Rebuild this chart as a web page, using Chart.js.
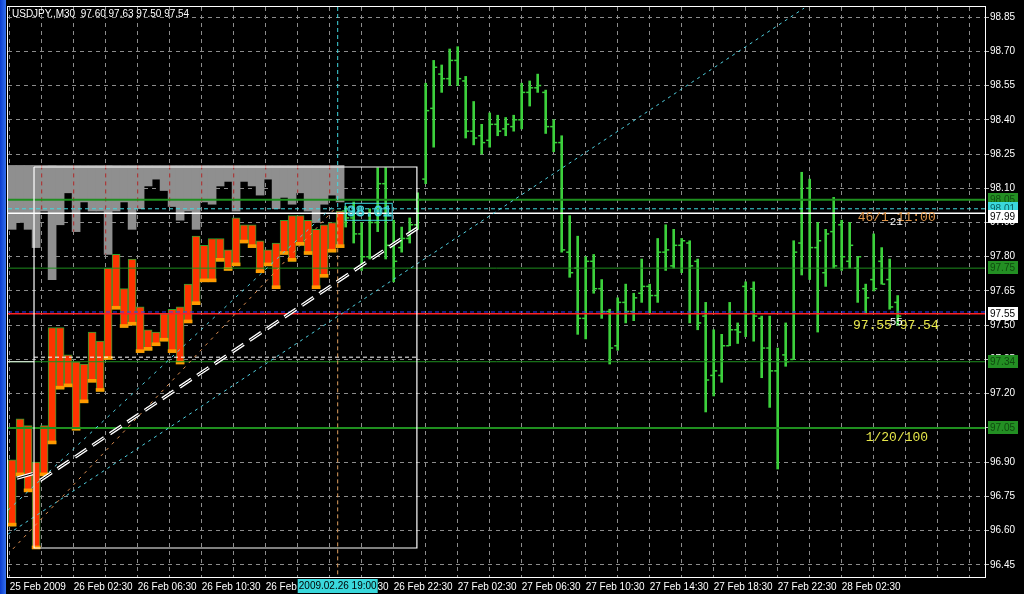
<!DOCTYPE html>
<html>
<head>
<meta charset="utf-8">
<script src="https://cdn.jsdelivr.net/npm/chart.js@4/dist/chart.umd.min.js"></script>
<style>
  html, body { margin: 0; padding: 0; background: #000; }
  #wrap { width: 1024px; height: 594px; }
</style>
</head>
<body>
<div id="wrap"><canvas id="chart" width="1024" height="594"></canvas></div>
<script>
// bar index 0 = 25 Feb 22:30, one bar per 30 minutes
const timeLabels = ["25 Feb 2009", "26 Feb 02:30", "26 Feb 06:30", "26 Feb 10:30", "26 Feb 14:30",
  "26 Feb 18:30", "26 Feb 22:30", "27 Feb 02:30", "27 Feb 06:30", "27 Feb 10:30", "27 Feb 14:30",
  "27 Feb 18:30", "27 Feb 22:30", "28 Feb 02:30"];
const priceTicks = [96.45, 96.60, 96.75, 96.90, 97.05, 97.20, 97.35, 97.50, 97.65, 97.80, 97.95,
  98.10, 98.25, 98.40, 98.55, 98.70, 98.85];

// green OHLC bars, starting at bar 42
const ohlcStart = 42;
const opens = [98.00, 97.97, 97.90, 97.80, 97.95, 98.12, 97.85, 97.84, 97.88, 97.94, 98.14, 98.45, 98.60, 98.58,
  98.66, 98.57, 98.35, 98.33, 98.31, 98.38, 98.36, 98.37, 98.40, 98.52, 98.54, 98.52, 98.37, 98.30, 97.82, 97.75,
  97.53, 97.78, 97.66, 97.56, 97.41, 97.60, 97.56, 97.64, 97.67, 97.63, 97.82, 97.76, 97.85, 97.86, 97.78, 97.54,
  97.28, 97.28, 97.41, 97.48, 97.67, 97.66, 97.53, 97.40, 97.30, 97.37, 97.35, 97.86, 98.10, 97.84, 97.73, 97.91,
  97.94, 97.78, 97.75, 97.66, 97.70, 97.78, 97.70, 97.60];
const highs = [98.02, 98.04, 97.95, 98.01, 98.19, 98.19, 97.96, 97.93, 97.97, 98.08, 98.56, 98.66, 98.64, 98.71,
  98.72, 98.59, 98.48, 98.38, 98.43, 98.42, 98.41, 98.42, 98.56, 98.57, 98.60, 98.53, 98.40, 98.33, 97.98, 97.89,
  97.80, 97.81, 97.70, 97.57, 97.62, 97.68, 97.64, 97.79, 97.68, 97.88, 97.94, 97.92, 97.88, 97.87, 97.79, 97.60,
  97.48, 97.46, 97.60, 97.51, 97.69, 97.69, 97.54, 97.54, 97.40, 97.51, 97.87, 98.17, 98.14, 97.95, 97.92, 98.06,
  97.96, 97.95, 97.80, 97.68, 97.90, 97.84, 97.79, 97.63];
const lows = [97.93, 97.86, 97.74, 97.79, 97.91, 97.79, 97.69, 97.82, 97.86, 97.92, 98.12, 98.28, 98.52, 98.55,
  98.55, 98.32, 98.29, 98.25, 98.28, 98.33, 98.33, 98.35, 98.36, 98.46, 98.52, 98.34, 98.26, 97.82, 97.71, 97.46,
  97.44, 97.64, 97.53, 97.33, 97.39, 97.51, 97.52, 97.60, 97.55, 97.60, 97.74, 97.75, 97.73, 97.51, 97.48, 97.12,
  97.19, 97.25, 97.41, 97.42, 97.45, 97.43, 97.27, 97.14, 96.87, 97.32, 97.35, 97.72, 97.70, 97.47, 97.67, 97.75,
  97.74, 97.75, 97.60, 97.55, 97.65, 97.68, 97.57, 97.50];
const closes = [97.97, 97.90, 97.80, 97.95, 98.12, 97.85, 97.78, 97.88, 97.94, 98.05, 98.44, 98.63, 98.58, 98.66,
  98.58, 98.35, 98.32, 98.30, 98.38, 98.35, 98.38, 98.40, 98.52, 98.54, 98.55, 98.37, 98.30, 97.83, 97.73, 97.53,
  97.78, 97.66, 97.56, 97.40, 97.60, 97.56, 97.62, 97.67, 97.63, 97.82, 97.83, 97.85, 97.87, 97.76, 97.51, 97.26,
  97.30, 97.41, 97.48, 97.47, 97.55, 97.54, 97.40, 97.30, 97.05, 97.34, 97.82, 98.05, 97.84, 97.87, 97.90, 97.76,
  97.80, 97.85, 97.80, 97.62, 97.66, 97.68, 97.58, 97.54];

// red blocks, bars 0..41
const blockTops = [96.91, 97.09, 97.06, 96.90, 97.06, 97.49, 97.49, 97.37, 97.34, 97.33, 97.47, 97.43, 97.75, 97.81,
  97.66, 97.79, 97.58, 97.48, 97.47, 97.55, 97.57, 97.58, 97.68, 97.89, 97.85, 97.88, 97.88, 97.83, 97.97, 97.94,
  97.94, 97.87, 97.83, 97.86, 97.96, 97.98, 97.98, 97.96, 97.92, 97.94, 97.95, 98.00];
const blockBottoms = [96.62, 96.84, 96.77, 96.52, 96.84, 96.98, 97.22, 97.23, 97.04, 97.16, 97.25, 97.21, 97.35,
  97.57, 97.49, 97.50, 97.38, 97.39, 97.41, 97.43, 97.38, 97.33, 97.51, 97.59, 97.69, 97.69, 97.78, 97.74, 97.76,
  97.86, 97.84, 97.73, 97.76, 97.66, 97.81, 97.78, 97.85, 97.81, 97.66, 97.71, 97.82, 97.84];

// grey histogram hanging from the box top, bars 0..41
const grayTop = 98.20;
const grayBottoms = [97.92, 97.95, 97.92, 97.84, 98.00, 97.70, 97.94, 98.08, 97.91, 98.04, 98.00, 98.00, 97.81,
  98.00, 98.04, 97.92, 98.01, 98.11, 98.14, 98.09, 98.02, 97.96, 98.00, 97.92, 98.04, 98.03, 98.11, 98.13, 98.00,
  98.13, 98.11, 98.07, 98.14, 98.01, 98.06, 98.03, 98.08, 98.00, 97.95, 98.03, 98.07, 98.04];

// horizontal levels
const greenLevels = [98.05, 97.75, 97.34, 97.05];
const whiteLevel = 97.99;
const cyanLevel = 98.01;
const redLevel = 97.55;
const boxDashLevel = 97.36;

// trend lines, [bar, price]
const cyanTrend = [[-0.2, 96.585], [99.3, 98.889]];
const whiteTrend = [[3.8, 96.82], [50.95, 97.925]];
const whiteTrendShort = [[0.9, 96.83], [2.9, 96.85]];
const cyanSteep = [[-0.2, 96.69], [40.7, 98.03]];
const orangeSteep = [[0.4, 96.52], [40.9, 98.02]];
// box around the candles
const boxBars = [3.04, 50.9];
const boxPrices = [96.524, 98.193];
const markerBar = 41; // 2009.02.26 19:00

const X_MIN = -0.2125, X_MAX = 121.9125;
const Y_MIN = 96.397, Y_MAX = 98.894;
const GREEN = "#3cd03c";
const LINE_GREEN = "#1f8f1f";
const MONO = '"Liberation Mono", monospace';
const SANS = '"Liberation Sans", Arial, sans-serif';

function line(points, color, width, dash) {
  return {
    type: "line",
    data: points.map(p => ({ x: p[0], y: p[1] })),
    borderColor: color,
    borderWidth: width,
    borderDash: dash || [],
    pointRadius: 0,
    fill: false,
    tension: 0
  };
}

function hline(price, color, width, dash, from, to) {
  return line([[from === undefined ? X_MIN : from, price], [to === undefined ? X_MAX : to, price]], color, width, dash);
}

const layers = [];

layers.push({
  type: "bar",
  data: grayBottoms.map((b, k) => ({ x: k + 0.3, y: [b, grayTop] })),
  backgroundColor: "#8f8f8f",
  borderWidth: 0,
  barThickness: 8,
  grouped: false
});
// the grid shows dark red where it crosses the grey histogram
for (let v = 4; v <= 40; v += 4) {
  layers.push(line([[v, grayTop], [v, grayBottoms[v]]], "#b02828", 1, [4, 4]));
}

layers.push({
  type: "bar",
  data: highs.map((h, k) => ({ x: ohlcStart + k, y: [lows[k], h] })),
  backgroundColor: GREEN,
  borderWidth: 0,
  barThickness: 2,
  grouped: false
});
layers.push({
  type: "line",
  data: opens.map((o, k) => ({ x: ohlcStart + k - 0.25, y: o })),
  showLine: false,
  pointStyle: "line",
  pointRadius: 1.5,
  pointBorderWidth: 1.5,
  pointBorderColor: GREEN
});
layers.push({
  type: "line",
  data: closes.map((c, k) => ({ x: ohlcStart + k + 0.25, y: c })),
  showLine: false,
  pointStyle: "line",
  pointRadius: 1.5,
  pointBorderWidth: 1.5,
  pointBorderColor: GREEN
});

layers.push({
  type: "bar",
  data: blockTops.map((t, k) => ({ x: k + 0.3, y: [blockBottoms[k], t] })),
  backgroundColor: "#ff3300",
  borderColor: "#2f9f2f",
  borderWidth: 1,
  borderSkipped: false,
  barThickness: 8,
  grouped: false
});
layers.push({
  type: "bar",
  data: blockBottoms.map((b, k) => ({ x: k + 0.3, y: [b, b + 0.013] })),
  backgroundColor: "#ff9a00",
  borderWidth: 0,
  barThickness: 8,
  grouped: false
});

layers.push(hline(greenLevels[0], LINE_GREEN, 2));
layers.push(hline(greenLevels[1], LINE_GREEN, 1));
layers.push(hline(greenLevels[2], LINE_GREEN, 1));
layers.push(hline(greenLevels[3], LINE_GREEN, 2));
layers.push(hline(cyanLevel, "#40d8e0", 1, [4, 3]));
layers.push(hline(whiteLevel, "#ffffff", 1.5));
layers.push(hline(redLevel + 0.008, "#3040ff", 1, [4, 3]));
layers.push(hline(redLevel, "#ff2020", 1.5));
layers.push(hline(boxDashLevel, "#ffffff", 1, [4, 3], boxBars[0], boxBars[1]));
layers.push(hline(greenLevels[2], "#ffffff", 1, [], X_MIN, boxBars[0]));

layers.push(line(cyanTrend, "#50d0e0", 1, [3, 4]));
layers.push(line(cyanSteep, "#50d0e0", 1, [3, 5]));
layers.push(line(orangeSteep, "#e09050", 1, [3, 5]));
layers.push(line(whiteTrend, "#ffffff", 3.5, [14, 7]));
layers.push(line(whiteTrend, "#000000", 1, [14, 7]));
layers.push(line(whiteTrendShort, "#ffffff", 3.5));
layers.push(line(whiteTrendShort, "#000000", 1));

layers.push(line([[boxBars[0], boxPrices[1]], [boxBars[1], boxPrices[1]], [boxBars[1], boxPrices[0]],
  [boxBars[0], boxPrices[0]], [boxBars[0], boxPrices[1]]], "#ffffff", 1.2));

layers.push(line([[markerBar, Y_MAX], [markerBar, cyanLevel]], "#40d8e0", 1, [4, 3]));
layers.push(line([[markerBar, whiteLevel], [markerBar, Y_MIN]], "#e0a060", 1, [4, 3]));

// later entries drawn on top
layers.forEach((d, i) => { d.order = layers.length - i; });

const xGridTicks = [];
for (let v = 0; v <= 120; v += 4) xGridTicks.push(v);

function axisBox(c, y, text, bg, fg) {
  c.fillStyle = bg;
  c.fillRect(988, Math.round(y) - 7, 30, 13);
  c.fillStyle = fg;
  c.font = "10px " + SANS;
  c.textBaseline = "middle";
  c.textAlign = "left";
  c.fillText(text, 990, Math.round(y) + 0.5);
}

const decor = {
  id: "decor",
  beforeDraw(chart) {
    const c = chart.ctx;
    c.save();
    c.fillStyle = "#000";
    c.fillRect(0, 0, chart.width, chart.height);
    const g = c.createLinearGradient(0, 0, 7, 0);
    g.addColorStop(0, "#0b3ccf");
    g.addColorStop(1, "#3a78f2");
    c.fillStyle = g;
    c.fillRect(0, 0, 6, chart.height);
    c.restore();
  },
  afterDraw(chart) {
    const c = chart.ctx;
    const xs = chart.scales.x, ys = chart.scales.y;
    const a = chart.chartArea;
    c.save();
    // frame
    c.strokeStyle = "#ffffff";
    c.lineWidth = 1;
    c.strokeRect(a.left - 0.5, a.top - 0.5, a.right - a.left + 1, a.bottom - a.top + 1);

    // title
    c.fillStyle = "#ffffff";
    c.font = "10px " + SANS;
    c.textBaseline = "middle";
    c.fillText("USDJPY.,M30  97.60 97.63 97.50 97.54", 12, 14);

    // price boxes on the right axis
    axisBox(c, ys.getPixelForValue(greenLevels[0]), "98.05", "#238f23", "#0f4a0f");
    axisBox(c, ys.getPixelForValue(cyanLevel), "98.01", "#3ad8dc", "#0a6060");
    axisBox(c, ys.getPixelForValue(whiteLevel) + 4, "97.99", "#ffffff", "#000000");
    axisBox(c, ys.getPixelForValue(greenLevels[1]), "97.75", "#238f23", "#0f4a0f");
    axisBox(c, ys.getPixelForValue(redLevel), "97.55", "#ffffff", "#000000");
    axisBox(c, ys.getPixelForValue(greenLevels[2]), "97.34", "#238f23", "#0f4a0f");
    axisBox(c, ys.getPixelForValue(greenLevels[3]), "97.05", "#238f23", "#0f4a0f");

    // time marker on the bottom axis
    const mx = xs.getPixelForValue(markerBar);
    c.fillStyle = "#3ad8dc";
    c.fillRect(mx - 40, a.bottom + 2, 80, 14);
    c.fillStyle = "#000000";
    c.textAlign = "center";
    c.fillText("2009.02.26 19:00", mx, a.bottom + 9.5);

    // cyan price label near the last block
    const cy = ys.getPixelForValue(cyanLevel);
    c.strokeStyle = "#40d8e0";
    c.lineWidth = 1;
    c.strokeRect(mx + 7.5, cy - 5.5, 47, 17);
    c.font = "15px " + MONO;
    c.textAlign = "left";
    c.strokeText("98.01", mx + 9, cy + 3);

    // text objects
    c.font = "13px " + MONO;
    c.fillStyle = "#e0964a";
    c.fillText("46/1 11:00", xs.getPixelForValue(106), ys.getPixelForValue(97.97));
    c.fillStyle = "#e6e64a";
    c.fillText("97.55 97.54", xs.getPixelForValue(105.4), ys.getPixelForValue(97.50));
    c.fillText("1/20/100", xs.getPixelForValue(107), ys.getPixelForValue(97.006));
    c.fillStyle = "#ffffff";
    c.font = "11px " + MONO;
    c.fillText("21", xs.getPixelForValue(110), ys.getPixelForValue(97.952));
    c.fillText("55", xs.getPixelForValue(110), ys.getPixelForValue(97.515));
    c.restore();
  }
};

new Chart(document.getElementById("chart"), {
  type: "bar",
  data: { datasets: layers },
  options: {
    responsive: false,
    animation: false,
    events: [],
    layout: { padding: { left: 8, top: 7, right: 0, bottom: 0 }, autoPadding: false },
    plugins: { legend: { display: false }, tooltip: { enabled: false } },
    scales: {
      x: {
        type: "linear",
        min: X_MIN,
        max: X_MAX,
        offset: false,
        afterBuildTicks: s => { s.ticks = xGridTicks.map(v => ({ value: v })); },
        afterFit: s => { s.height = 17; },
        grid: { color: "#8c8c8c", offset: false, drawTicks: false },
        border: { color: "#ffffff", dash: [4, 4] },
        ticks: {
          color: "#ffffff",
          font: { family: SANS, size: 10 },
          align: "start",
          maxRotation: 0,
          autoSkip: false,
          padding: 4,
          callback: v => (v % 8 === 0 ? timeLabels[v / 8] || "" : "")
        }
      },
      y: {
        type: "linear",
        position: "right",
        min: Y_MIN,
        max: Y_MAX,
        beginAtZero: false,
        afterBuildTicks: s => { s.ticks = priceTicks.map(v => ({ value: v })); },
        afterFit: s => { s.width = 39; },
        grid: { color: "#8c8c8c", tickLength: 4, tickColor: "#bbbbbb" },
        border: { color: "#ffffff", dash: [4, 4] },
        ticks: {
          color: "#ffffff",
          font: { family: SANS, size: 10 },
          padding: 1,
          callback: v => v.toFixed(2)
        }
      }
    }
  },
  plugins: [decor]
});
</script>
</body>
</html>
